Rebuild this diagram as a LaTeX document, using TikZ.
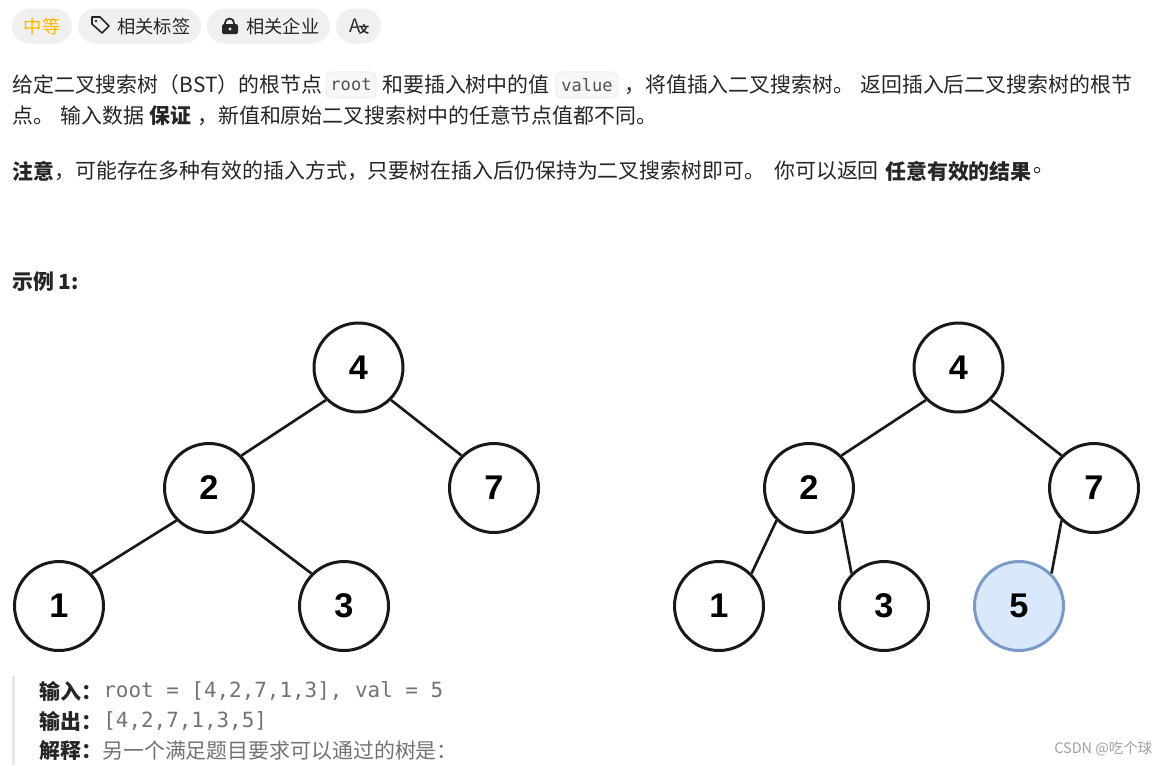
\documentclass[tikz,border=0pt]{standalone}
\usepackage{fontspec}
\usepackage{xcolor}
\setmainfont{Noto Sans CJK SC}
\setmonofont{DejaVu Sans Mono}
\newfontfamily\digitfont{Liberation Sans}
\definecolor{inktext}{HTML}{262626}
\definecolor{pillgray}{HTML}{F0F0F0}
\definecolor{chipgray}{HTML}{F7F7F7}
\definecolor{chipedge}{HTML}{E8E8E8}
\definecolor{quotegray}{HTML}{E8E8E8}
\definecolor{quotetext}{HTML}{737373}
\definecolor{medium}{HTML}{FFB800}
\definecolor{newfill}{HTML}{DAE8FC}
\definecolor{newedge}{HTML}{7C9AC8}
\definecolor{wmark}{HTML}{A0A0A0}
\newcommand{\fwcomma}{^^^^ff0c}
\newcommand{\fwcolon}{^^^^ff1a}
\newcommand{\fwopen}{^^^^ff08}
\newcommand{\fwclose}{^^^^ff09}

\begin{document}
\begin{tikzpicture}[
        x=0.02cm, y=-0.02cm,
        tree/.style={circle, draw=black!90, line width=1.7pt, fill=white, minimum size=1.78cm, inner sep=0pt, font=\digitfont\bfseries\fontsize{19.5}{20}\selectfont},
        newtree/.style={tree, draw=newedge, fill=newfill},
        link/.style={draw=black!90, line width=1.5pt},
        pill/.style={rounded corners=0.35cm, fill=pillgray, draw=none, minimum height=0.7cm, inner sep=0pt},
        chip/.style={rounded corners=0.1cm, fill=chipgray, draw=chipedge, line width=0.4pt, text=inktext!80, minimum height=0.52cm, inner sep=0pt, font=\ttfamily\fontsize{9.7}{10}\selectfont},
        txt/.style={anchor=west, inner sep=0pt, text=inktext, font=\fontsize{11.9}{14}\selectfont},
        bold/.style={txt, font=\bfseries\fontsize{11.9}{14}\selectfont},
        label/.style={txt, font=\fontsize{10.4}{14}\selectfont},
        quotemono/.style={txt, text=quotetext, font=\ttfamily\fontsize{11.9}{14}\selectfont},
        quotetxt/.style={txt, text=quotetext}
    ]
        \useasboundingbox (0, 0) rectangle (1169, 765);
        \fill[white] (0, 0) rectangle (1169, 765);

        % Tag row
        \node[pill, minimum width=1.2cm] (level) at (42, 26) {};
        \node[label, text=medium, anchor=center] (leveltext) at (42, 26) {中等};
        \node[pill, minimum width=2.46cm] (tags) at (139.5, 26) {};
        \node[label] (tagstext) at (117, 26) {相关标签};
        \node[pill, minimum width=2.46cm] (firms) at (268.5, 26) {};
        \node[label] (firmstext) at (246, 26) {相关企业};
        \node[pill, minimum width=0.9cm] (lang) at (358.5, 26) {};
        \node[txt, font=\fontsize{10.5}{12}\selectfont, anchor=center] (langa) at (355, 26) {A};
        \node[txt, font=\bfseries\fontsize{6}{7}\selectfont, anchor=center] (langb) at (364, 29) {文};

        % Tag icon
        \draw[inktext, line width=0.9pt, line join=round] (92, 17) -- (100, 17) -- (109, 26) -- (102, 33) -- (92, 24) -- cycle;
        \fill[inktext] (96, 21) circle (1.4);
        % Lock icon
        \draw[inktext, line width=1pt] (225, 25) -- (225, 23) arc (180:360:4.5) -- (234, 25);
        \fill[inktext, rounded corners=0.03cm] (222, 24) rectangle (238, 34);
        \fill[pillgray] (230, 29) circle (1.6);

        % Problem text
        \node[txt] (intro) at (12, 85) {给定二叉搜索树\fwopen BST\fwclose 的根节点};
        \node[chip, minimum width=1cm] (root) at (351, 85) {root};
        \node[txt] (insert) at (382, 85) {和要插入树中的值};
        \node[chip, minimum width=1.24cm] (value) at (587, 85) {value};
        \node[txt] (action) at (624, 85) {\fwcomma 将值插入二叉搜索树。};
        \node[txt] (returns) at (860, 85) {返回插入后二叉搜索树的根节};
        \node[txt] (point) at (12, 116) {点。};
        \node[txt] (inputs) at (60, 116) {输入数据};
        \node[bold] (promise) at (149, 116) {保证};
        \node[txt] (differ) at (197, 116) {\fwcomma 新值和原始二叉搜索树中的任意节点值都不同。};
        \node[bold] (note) at (12, 171) {注意};
        \node[txt] (notetext) at (54, 171) {\fwcomma 可能存在多种有效的插入方式\fwcomma 只要树在插入后仍保持为二叉搜索树即可。};
        \node[txt] (mayreturn) at (774, 171) {你可以返回};
        \node[bold] (anyvalid) at (885, 171) {任意有效的结果};
        \node[txt] (stop) at (1033, 171) {。};
        \node[bold] (sample) at (12, 282) {示例 1:};

        % Tree before
        \node[tree] (a4) at (358.5, 367.5) {4};
        \node[tree] (a2) at (209, 488) {2};
        \node[tree] (a7) at (494, 488) {7};
        \node[tree] (a1) at (59, 606) {1};
        \node[tree] (a3) at (344, 606) {3};
        \draw[link] (a4.south west) -- (a2.north east);
        \draw[link] (a4.south east) -- (a7.north west);
        \draw[link] (a2.south west) -- (a1.north east);
        \draw[link] (a2.south east) -- (a3.north west);

        % Tree after
        \node[tree] (b4) at (958.5, 367.5) {4};
        \node[tree] (b2) at (809, 488) {2};
        \node[tree] (b7) at (1094, 488) {7};
        \node[tree] (b1) at (719, 606) {1};
        \node[tree] (b3) at (884, 606) {3};
        \node[newtree] (b5) at (1019, 606) {5};
        \draw[link] (b4.south west) -- (b2.north east);
        \draw[link] (b4.south east) -- (b7.north west);
        \draw[link] (b2.south west) -- (b1.north east);
        \draw[link] (b2.south east) -- (b3.north west);
        \draw[link] (b7.south west) -- (b5.north east);

        % Example block
        \fill[quotegray] (12, 676) rectangle (15, 765);
        \node[bold] (inlabel) at (39, 691) {输入\fwcolon};
        \node[quotemono] (invalue) at (103, 691) {root = [4,2,7,1,3], val = 5};
        \node[bold] (outlabel) at (39, 721) {输出\fwcolon};
        \node[quotemono] (outvalue) at (103, 721) {[4,2,7,1,3,5]};
        \node[bold] (whylabel) at (39, 751) {解释\fwcolon};
        \node[quotetxt] (whytext) at (102, 751) {另一个满足题目要求可以通过的树是\fwcolon};

        % Watermark
        \node[txt, text=wmark, font=\fontsize{8.2}{9}\selectfont] (mark) at (1054, 749) {CSDN @吃个球};
\end{tikzpicture}
\end{document}
